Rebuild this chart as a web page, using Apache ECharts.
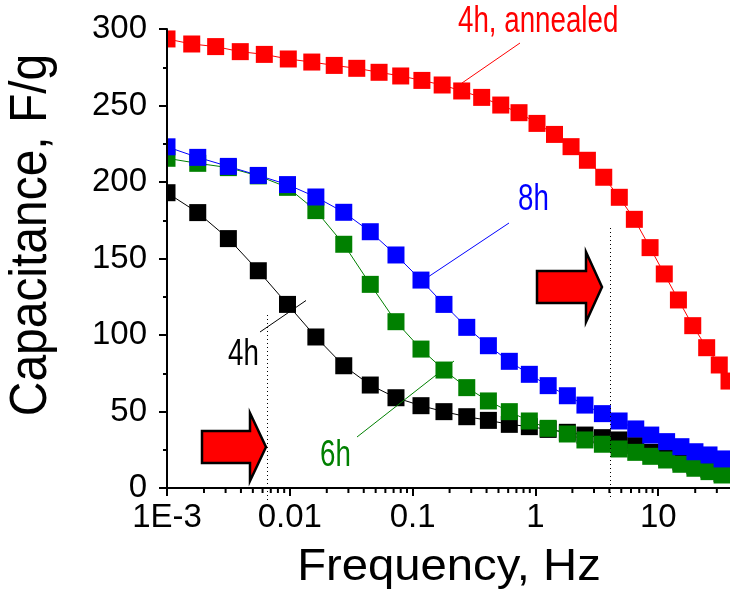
<!DOCTYPE html>
<html><head><meta charset="utf-8">
<script src="https://cdn.jsdelivr.net/npm/echarts@6/dist/echarts.min.js"></script>
<style>html,body{margin:0;padding:0;background:#fff}#c{width:730px;height:592px}</style>
</head><body><div id="c"></div>
<script>
// ---- data ----
const freqMain = [0.001, 0.00178, 0.00316, 0.00554, 0.00958, 0.0163, 0.0275, 0.0452, 0.0732, 0.117, 0.180, 0.276, 0.414, 0.613, 0.892, 1.27, 1.82, 2.53, 3.51, 4.80, 6.56, 8.69, 11.7, 15.3, 19.9, 25.9, 33.1];
const cap4h = [193, 180, 163, 142, 120, 98.7, 79.9, 67.3, 59.0, 53.8, 49.9, 46.6, 44.2, 41.6, 40.1, 38.3, 36.4, 34.6, 32.9, 31.4, 27.7, 23.3, 20.0, 17.0, 14.5, 12.0, 9.5];
const cap6h = [215.5, 212.2, 209.4, 204.0, 196.5, 181.3, 159.3, 133.1, 108.7, 90.8, 77.1, 65.6, 56.9, 49.9, 43.8, 39.0, 35.3, 31.4, 28.6, 25.5, 23.3, 20.7, 18.3, 15.5, 12.9, 10.7, 8.5];
const cap8h = [223, 216.1, 210.2, 204.3, 198.3, 190.2, 180.2, 167.5, 152.3, 135.9, 120, 105, 93, 82.8, 74.3, 66.9, 60.3, 54.2, 48.6, 43.8, 38.6, 34.6, 30.3, 27.0, 23.7, 21.6, 19.0];
const freqAnnealed = [0.001, 0.00159, 0.00249, 0.00395, 0.0062, 0.00972, 0.0151, 0.0230, 0.0351, 0.0533, 0.080, 0.119, 0.174, 0.251, 0.365, 0.522, 0.735, 1.03, 1.43, 1.95, 2.65, 3.60, 4.82, 6.39, 8.58, 11.2, 14.6, 19.1, 24.8, 31.4, 37.7];
const cap4hAnnealed = [293.5, 290.2, 288.5, 285.2, 283.4, 280.4, 278.4, 276.2, 274.3, 271.7, 269.3, 266.4, 263.4, 259.5, 255.3, 250.3, 245.3, 238.3, 231.1, 223.1, 214.2, 203.1, 190.0, 175.6, 157.1, 139.9, 122.9, 106.1, 91.7, 80.4, 69.9];
const xTickValues = [0.001, 0.01, 0.1, 1, 10];
const xTickLabels = ['1E-3', '0.01', '0.1', '1', '10'];
const xMin = 0.001, xMax = 38.4;
const yMin = 0, yMax = 300, yStep = 50;

const FONT = '"Liberation Sans", Arial, sans-serif';
const chart = echarts.init(document.getElementById('c'), null, {renderer: 'canvas'});

function mk(name, xs, ys, color) {
  return {
    name, type: 'line', data: xs.map((x, i) => [x, ys[i]]),
    symbol: 'rect', symbolSize: 17, showSymbol: true, showAllSymbol: true,
    itemStyle: {color: color, borderWidth: 0}, lineStyle: {color: color, width: 1},
    emphasis: {disabled: true}, z: 2, animation: false
  };
}

const option = {
  animation: false,
  grid: {left: 167, right: 0, top: 29, bottom: 104, containLabel: false},
  xAxis: {
    type: 'log', logBase: 10, min: xMin, max: xMax, z: 10,
    axisLine: {show: true, lineStyle: {color: '#000', width: 2}},
    axisTick: {show: true, length: 8, lineStyle: {color: '#000', width: 2}},
    splitLine: {show: false},
    axisLabel: {
      fontSize: 33, color: '#000', fontFamily: FONT, margin: 13,
      showMaxLabel: false,
      formatter: function (v) {
        for (let i = 0; i < xTickValues.length; i++) {
          if (Math.abs(Math.log10(v) - Math.log10(xTickValues[i])) < 1e-6) return xTickLabels[i];
        }
        return '';
      }
    }
  },
  yAxis: {
    type: 'value', min: yMin, max: yMax, interval: yStep, z: 10,
    axisLine: {show: true, lineStyle: {color: '#000', width: 2}},
    axisTick: {show: true, length: 8, lineStyle: {color: '#000', width: 2}},
    minorTick: {show: true, splitNumber: 2, length: 4, lineStyle: {color: '#000', width: 2}},
    splitLine: {show: false},
    axisLabel: {fontSize: 33, color: '#000', fontFamily: FONT, margin: 20}
  },
  series: [
    mk('4h', freqMain, cap4h, '#000000'),
    mk('6h', freqMain, cap6h, '#008000'),
    mk('8h', freqMain, cap8h, '#0000ff'),
    mk('4h, annealed', freqAnnealed, cap4hAnnealed, '#ff0000')
  ]
};
chart.setOption(option);

// ---- decorations ----
const y0 = chart.convertToPixel({yAxisIndex: 0}, 0);
const xLeft = chart.convertToPixel({xAxisIndex: 0}, xMin);
const g = [];
// mask that clips markers to the left of the y axis
g.push({type: 'rect', z: 5, silent: true, shape: {x: xLeft - 14, y: 0, width: 13, height: y0}, style: {fill: '#fff'}});
// minor log ticks
for (let d = -3; d <= 1; d++) {
  for (let k = 2; k <= 9; k++) {
    const v = k * Math.pow(10, d);
    if (v >= xMax) continue;
    const px = chart.convertToPixel({xAxisIndex: 0}, v);
    g.push({type: 'line', z: 11, silent: true, shape: {x1: px, y1: y0, x2: px, y2: y0 + 5}, style: {stroke: '#000', lineWidth: 2}});
  }
}
// dotted vertical markers
g.push({type: 'line', z: 6, shape: {x1: 267.5, y1: 315, x2: 267.5, y2: y0 + 12}, style: {stroke: '#000', lineWidth: 1, lineDash: [1, 3]}});
g.push({type: 'line', z: 6, shape: {x1: 610.5, y1: 228, x2: 610.5, y2: y0 + 12}, style: {stroke: '#000', lineWidth: 1, lineDash: [1, 3]}});
// annotation leader lines
g.push({type: 'line', z: 6, shape: {x1: 520, y1: 43, x2: 462, y2: 83}, style: {stroke: '#ff0000', lineWidth: 1}});
g.push({type: 'line', z: 6, shape: {x1: 509, y1: 223, x2: 428, y2: 277}, style: {stroke: '#0000ff', lineWidth: 1}});
g.push({type: 'line', z: 6, shape: {x1: 260, y1: 332, x2: 306, y2: 300.5}, style: {stroke: '#000', lineWidth: 1}});
g.push({type: 'line', z: 6, shape: {x1: 357, y1: 437, x2: 454, y2: 361}, style: {stroke: '#008000', lineWidth: 1}});
// block arrows
function arrow(x0, yc, shaftEnd, tip, sh, hh) {
  return {type: 'polygon', z: 6, shape: {points: [
    [x0, yc - sh], [shaftEnd, yc - sh], [shaftEnd, yc - hh], [tip, yc],
    [shaftEnd, yc + hh], [shaftEnd, yc + sh], [x0, yc + sh]]},
    style: {fill: '#ff0000', stroke: '#000', lineWidth: 2.5, lineJoin: 'miter'}};
}
g.push(arrow(202, 447, 250, 266, 16, 34));
g.push(arrow(537, 287, 586, 602, 16, 35));
// annotation labels
function label(txt, x, y, color) {
  return {type: 'text', z: 7, x: x, y: y, scaleX: 0.77, style: {text: txt, fontSize: 36, fontFamily: FONT, fill: color,
    align: 'left', verticalAlign: 'middle', textAlign: 'left', textVerticalAlign: 'middle'}};
}
g.push(label('4h, annealed', 458, 22.5, '#ff0000'));
g.push(label('8h', 518, 200, '#0000ff'));
g.push(label('4h', 228, 355, '#000000'));
g.push(label('6h', 320, 456, '#008000'));
// axis titles
g.push({type: 'text', z: 7, x: 449, y: 567.5, scaleX: 1.05, style: {text: 'Frequency, Hz', fontSize: 45, fontFamily: FONT, fill: '#000',
  align: 'center', verticalAlign: 'middle', textAlign: 'center', textVerticalAlign: 'middle'}});
g.push({type: 'text', z: 7, x: 32, y: 235, rotation: Math.PI / 2, scaleX: 0.94, style: {text: 'Capacitance, F/g', fontSize: 51, fontFamily: FONT, fill: '#000',
  align: 'center', verticalAlign: 'middle', textAlign: 'center', textVerticalAlign: 'middle'}});

chart.setOption({graphic: {elements: g}});
</script>
</body></html>
